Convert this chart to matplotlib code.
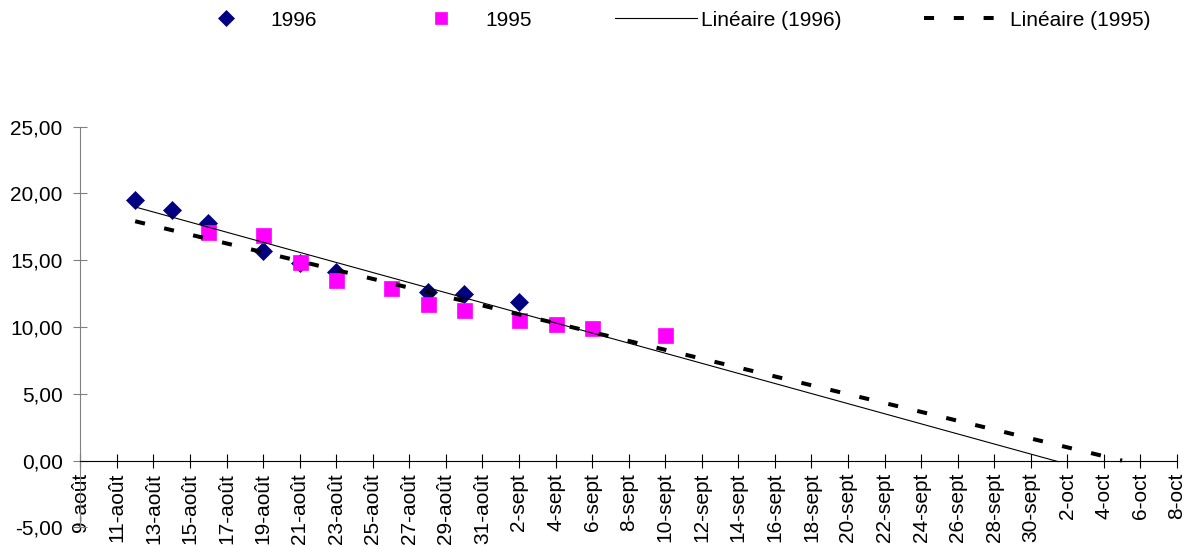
import numpy as np
import pandas as pd
import matplotlib.pyplot as plt

plt.rcParams['font.family'] = ['Liberation Sans', 'DejaVu Sans']

# relevés (jours comptés depuis le 9 août)
start = pd.Timestamp('1996-08-09')

dates_1996 = ['1996-08-12', '1996-08-14', '1996-08-16', '1996-08-19', '1996-08-21',
              '1996-08-23', '1996-08-28', '1996-08-30', '1996-09-02']
values_1996 = [19.5, 18.8, 17.8, 15.7, 14.8, 14.1, 12.6, 12.5, 11.9]

dates_1995 = ['1996-08-16', '1996-08-19', '1996-08-21', '1996-08-23', '1996-08-26',
              '1996-08-28', '1996-08-30', '1996-09-02', '1996-09-04', '1996-09-06',
              '1996-09-10']
values_1995 = [17.1, 16.9, 14.9, 13.5, 12.95, 11.7, 11.3, 10.5, 10.2, 9.95, 9.4]

# extension des courbes de tendance
trend_span_1996 = ['1996-08-12', '1996-10-01 12:00']
trend_span_1995 = ['1996-08-12', '1996-10-05']

tick_labels = ['9-août', '11-août', '13-août', '15-août', '17-août', '19-août',
               '21-août', '23-août', '25-août', '27-août', '29-août', '31-août',
               '2-sept', '4-sept', '6-sept', '8-sept', '10-sept', '12-sept',
               '14-sept', '16-sept', '18-sept', '20-sept', '22-sept', '24-sept',
               '26-sept', '28-sept', '30-sept', '2-oct', '4-oct', '6-oct', '8-oct']
y_ticks = [-5, 0, 5, 10, 15, 20, 25]


def to_days(dates):
    return np.array([(pd.Timestamp(d) - start) / pd.Timedelta(days=1) for d in dates])


x96 = to_days(dates_1996)
x95 = to_days(dates_1995)

fig = plt.figure(figsize=(11.85, 5.47), dpi=100)
ax = fig.add_axes([0.0678, 0.0357, 0.9254, 0.7327])

ax.plot(x96, values_1996, 'D', color='#000080', ms=9.6, mew=0.5, zorder=3, label='1996')
ax.plot(x95, values_1995, 's', color='#FF00FF', ms=10.8, mew=0.5, zorder=4, label='1995')

p96 = np.polyfit(x96, values_1996, 1)
t96 = to_days(trend_span_1996)
ax.plot(t96, np.polyval(p96, t96), color='black', lw=0.8, zorder=5,
        label='Linéaire (1996)')

p95 = np.polyfit(x95, values_1995, 1)
t95 = to_days(trend_span_1995)
ax.plot(t95, np.polyval(p95, t95), color='black', lw=2.9, ls=(0, (2.5, 4.9)),
        dash_capstyle='butt', zorder=5, label='Linéaire (1995)')

ax.set_xlim(0, 60)
ax.set_ylim(-5, 25)

ax.spines['top'].set_visible(False)
ax.spines['right'].set_visible(False)
ax.spines['bottom'].set_position(('data', 0))
ax.spines['left'].set_color('#808080')

ax.set_xticks(np.arange(0, 61, 2))
ax.set_xticklabels(tick_labels, rotation=90, fontsize=15)
ax.set_yticks(y_ticks)
ax.yaxis.set_major_formatter(plt.FuncFormatter(lambda v, p: ('%.2f' % v).replace('.', ',')))
ax.tick_params(axis='y', labelsize=15)

ax.tick_params(axis='x', direction='inout', length=9.5, width=0.8, pad=4)
ax.tick_params(axis='y', direction='inout', length=9.5, width=0.8, pad=8,
               color='#808080')

ax.legend(loc='center', bbox_to_anchor=(0.5633, 0.963), bbox_transform=fig.transFigure,
          ncol=4, frameon=False, fontsize=15, handlelength=3.95, handletextpad=0.15,
          columnspacing=4.0, markerscale=0.8)

plt.savefig('out.png', dpi=100)
